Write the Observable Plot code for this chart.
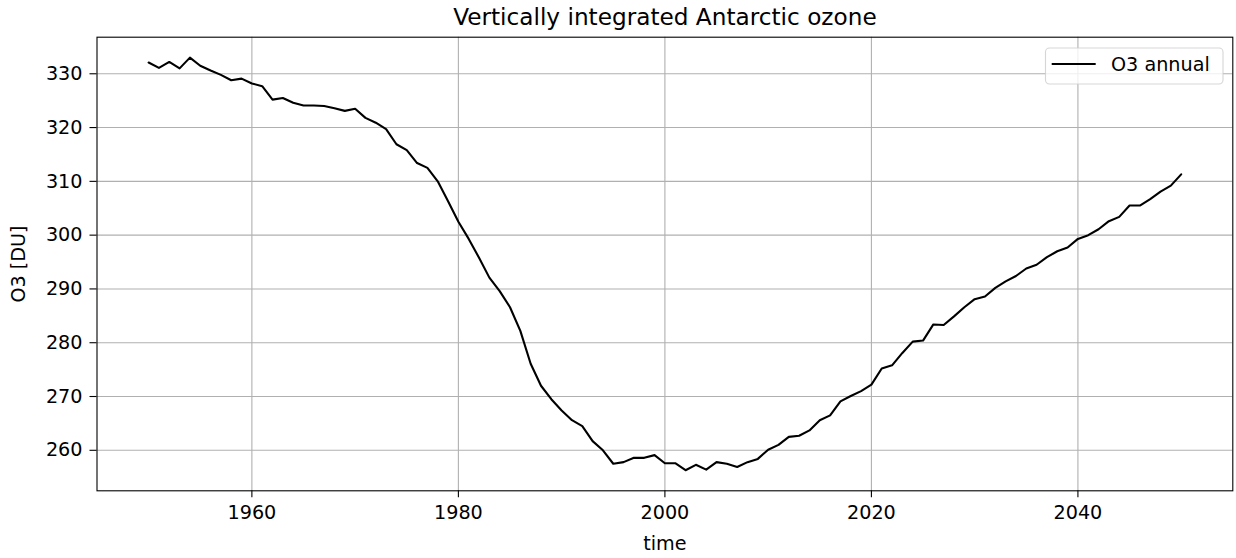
<!DOCTYPE html>
<html>
<head>
<meta charset="utf-8">
<script src="https://cdn.jsdelivr.net/npm/d3@7"></script>
<script src="https://cdn.jsdelivr.net/npm/@observablehq/plot@0.6"></script>
<style>
  html, body { margin: 0; padding: 0; background: #fff; }
  #chart { width: 1236px; height: 558px; }
</style>
</head>
<body>
<div id="chart"></div>
<script>
const titleText = "Vertically integrated Antarctic ozone";
const xLabel = "time";
const yLabel = "O3 [DU]";
const legendLabel = "O3 annual";
const startYear = 1950;
const o3Values = [
  332.1, 331.1, 332.2, 331.0, 333.0, 331.5, 330.6, 329.8, 328.8, 329.1,
  328.2, 327.7, 325.2, 325.5, 324.6, 324.1, 324.1, 324.0, 323.6, 323.1,
  323.5, 321.8, 320.9, 319.7, 316.9, 315.8, 313.4, 312.5, 310.0, 306.3,
  302.5, 299.3, 295.8, 292.1, 289.6, 286.6, 282.2, 276.1, 272.0, 269.5,
  267.4, 265.6, 264.5, 261.7, 260.0, 257.5, 257.8, 258.6, 258.6, 259.1,
  257.6, 257.6, 256.3, 257.3, 256.4, 257.8, 257.5, 256.9, 257.8, 258.4,
  260.1, 261.0, 262.5, 262.7, 263.7, 265.6, 266.5, 269.1, 270.1, 271.0,
  272.2, 275.2, 275.8, 278.1, 280.2, 280.4, 283.4, 283.3, 284.9, 286.6,
  288.1, 288.6, 290.2, 291.4, 292.4, 293.8, 294.5, 295.9, 297.0, 297.7,
  299.3, 300.0, 301.1, 302.6, 303.4, 305.5, 305.5, 306.7, 308.1, 309.2,
  311.3
];
const xTicks = [1960, 1980, 2000, 2020, 2040];
const yTicks = [260, 270, 280, 290, 300, 310, 320, 330];

const data = o3Values.map((v, i) => ({time: startYear + i, o3: v}));

const W = 1236, H = 558;
const mL = 96.5, mR = 3.7, mT = 36.7, mB = 67.7;
const fs = 19.2;

const svg = Plot.plot({
  width: W,
  height: H,
  marginLeft: mL,
  marginRight: mR,
  marginTop: mT,
  marginBottom: mB,
  style: {fontFamily: "DejaVu Sans, sans-serif", fontSize: fs + "px", color: "#000", background: "#fff", overflow: "visible"},
  x: {domain: [1945, 2055]},
  y: {domain: [252.47, 336.8]},
  marks: [
    Plot.gridX(xTicks, {stroke: "#b0b0b0", strokeOpacity: 1, strokeWidth: 1.1}),
    Plot.gridY(yTicks, {stroke: "#b0b0b0", strokeOpacity: 1, strokeWidth: 1.1}),
    Plot.line(data, {x: "time", y: "o3", stroke: "#000", strokeWidth: 2.1}),
    Plot.frame({stroke: "#000", strokeWidth: 1.1}),
    Plot.axisX(xTicks, {tickSize: 7, tickPadding: 8, tickFormat: "d", label: null, stroke: "#000", strokeWidth: 1.1, fontSize: fs}),
    Plot.axisY(yTicks, {tickSize: 7, tickPadding: 7.5, tickFormat: "d", label: null, stroke: "#000", strokeWidth: 1.1, fontSize: fs}),
    Plot.text([xLabel], {frameAnchor: "bottom", lineAnchor: "middle", textAnchor: "middle", dy: 53, fontSize: fs, fill: "#000"}),
    Plot.text([yLabel], {frameAnchor: "left", lineAnchor: "middle", textAnchor: "middle", dx: -78.5, rotate: -90, fontSize: fs, fill: "#000"}),
    Plot.text([titleText], {frameAnchor: "top", lineAnchor: "middle", textAnchor: "middle", dy: -20, fontSize: 23.2, fill: "#000"})
  ]
});

// legend box (matplotlib style, upper right)
const lg = d3.select(svg).append("g");
const lx = 1045.5, ly = 48, lw = 177.5, lh = 36;
lg.append("rect").attr("x", lx).attr("y", ly).attr("width", lw).attr("height", lh)
  .attr("rx", 4).attr("fill", "#fff").attr("fill-opacity", 0.8)
  .attr("stroke", "#cccccc").attr("stroke-opacity", 0.8).attr("stroke-width", 1.1);
lg.append("line").attr("x1", 1051.7).attr("x2", 1095.7).attr("y1", 64).attr("y2", 64)
  .attr("stroke", "#000").attr("stroke-width", 2.1);
lg.append("text").attr("x", 1111).attr("y", 64).attr("dy", "0.35em")
  .attr("text-anchor", "start").attr("font-size", fs).attr("fill", "#000").text(legendLabel);

document.getElementById("chart").appendChild(svg);
</script>
</body>
</html>
